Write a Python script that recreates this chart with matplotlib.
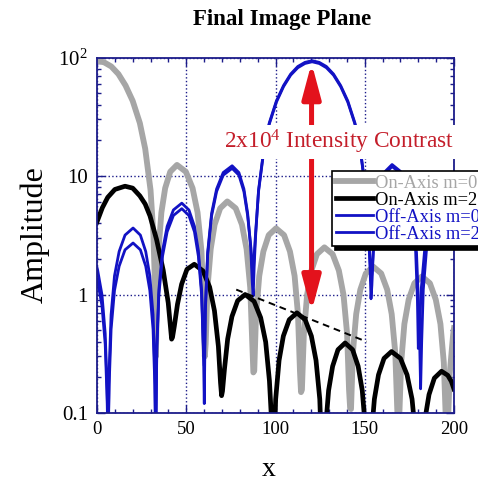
import matplotlib
matplotlib.use('Agg')
import matplotlib.pyplot as plt
from matplotlib.ticker import FixedLocator, MultipleLocator, LogLocator, NullFormatter

plt.rcParams['font.family'] = ['Liberation Serif', 'DejaVu Serif']
plt.rcParams['mathtext.fontset'] = 'custom'
plt.rcParams['mathtext.rm'] = 'Liberation Serif'
plt.rcParams['mathtext.it'] = 'Liberation Serif:italic'
plt.rcParams['mathtext.bf'] = 'Liberation Serif:bold'

# ---------------- data ----------------
labels = ['On-Axis m=0', 'On-Axis m=2', 'Off-Axis m=0', 'Off-Axis m=2']

grey_x = [0, 4, 8, 12, 16, 20, 24, 27, 30, 31.6, 32.4, 33.0,
          33.47, 34.42, 36.07, 38.19, 41.02, 44.8, 49.79, 53.54, 56.34, 58.53, 59.78, 60.4,
          60.9, 61.9, 63.7, 65.9, 69.0, 73.0, 77.7, 81.2, 83.8, 85.85, 87.0, 87.6,
          88.1, 89.1, 90.9, 93.2, 96.2, 100.3, 104.8, 108.1, 110.7, 112.6, 113.7, 114.3,
          114.8, 115.9, 117.7, 120.1, 123.2, 127.4, 132.0, 135.5, 138.1, 140.1, 141.2, 141.8,
          142.3, 143.35, 145.2, 147.5, 150.6, 154.7, 159.2, 162.6, 165.1, 167.1, 168.2, 168.8,
          169.3, 170.4, 172.2, 174.6, 177.8, 182, 186.5, 189.8, 192.4, 194.3, 195.4, 196,
          196.5, 197.6, 199.5, 200]
grey_y = [94, 91, 84, 72.5, 58, 43, 28, 17, 7.6, 3.2, 1.3, 0.3,
          0.78, 2.32, 4.92, 7.90, 10.86, 12.4, 10.86, 7.90, 4.92, 2.32, 0.78, 0.3,
          0.383, 1.14, 2.42, 3.89, 5.34, 6.1, 5.34, 3.89, 2.42, 1.14, 0.383, 0.22,
          0.227, 0.677, 1.437, 2.306, 3.171, 3.62, 3.171, 2.306, 1.437, 0.677, 0.227, 0.15,
          0.157, 0.468, 0.993, 1.593, 2.19, 2.5, 2.19, 1.593, 0.993, 0.468, 0.157, 0.11,
          0.108, 0.322, 0.683, 1.096, 1.507, 1.72, 1.507, 1.096, 0.683, 0.322, 0.108, 0.07,
          0.089, 0.266, 0.564, 0.905, 1.244, 1.42, 1.244, 0.905, 0.564, 0.266, 0.089, 0.06,
          0.072, 0.215, 0.457, 0.52]

black_x = [0, 3, 6, 10, 15.7, 20, 24, 27, 29.7, 33.4, 37.1, 39.9, 41.8,
           42.3, 43.3, 45.1, 47.4, 50.4, 54.5, 59.4, 63.1, 65.8, 68.0, 69.2, 69.8,
           70.3, 71.4, 73.2, 75.6, 78.8, 83, 88.0, 91.7, 94.5, 96.6, 97.9, 98.5,
           99.0, 100.1, 102.0, 104.4, 107.7, 112, 116.6, 120.1, 122.7, 124.8, 125.9, 126.5,
           127.0, 128.0, 129.75, 132.0, 135.0, 139, 143.2, 146.3, 148.6, 150.4, 151.5, 152,
           152.5, 153.6, 155.4, 157.7, 160.8, 165, 170.0, 173.7, 176.5, 178.6, 179.9, 180.5,
           181.0, 182.0, 183.75, 186.0, 189.0, 193, 196.5, 198.5, 200]
black_y = [4.1, 5.4, 6.6, 7.7, 8.2, 7.9, 6.8, 5.8, 4.6, 2.9, 1.6, 0.85, 0.42,
           0.435, 0.538, 0.829, 1.221, 1.632, 1.8, 1.58, 1.156, 0.729, 0.365, 0.18, 0.14,
           0.153, 0.234, 0.421, 0.652, 0.887, 1.0, 0.876, 0.637, 0.397, 0.187, 0.08, 0.05,
           0.044, 0.131, 0.278, 0.446, 0.613, 0.70, 0.613, 0.446, 0.278, 0.131, 0.044, 0.03,
           0.0245, 0.073, 0.155, 0.248, 0.342, 0.39, 0.342, 0.248, 0.155, 0.073, 0.0245, 0.02,
           0.0207, 0.0617, 0.131, 0.21, 0.289, 0.33, 0.289, 0.21, 0.131, 0.0617, 0.0207, 0.015,
           0.0141, 0.042, 0.089, 0.143, 0.197, 0.225, 0.208, 0.185, 0.159]

blue0_x = [0, 0.4, 2.8, 4.6, 5.7, 6.2,
           6.8, 7.9, 9.8, 12.4, 15.7, 20.2, 24.3, 27.3, 29.6, 31.4, 32.4, 32.9,
           33.5, 34.65, 36.7, 39.3, 42.8, 47.5, 51.5, 54.6, 56.8, 58.6, 59.6, 60.1,
           60.7, 62.0, 64.2, 67.0, 70.7, 75.7, 79.5, 82.3, 84.4, 86.1, 87.0, 87.5,
           88.1, 88.9, 90.5, 93.5, 96.5, 100.5, 104.5, 108.5, 112.5, 116.5, 120.5,
           124.5, 128.5, 132.5, 136.5, 140.5, 144.5, 147.5, 150.5, 152.1, 152.9, 153.5,
           154.0, 154.9, 156.6, 158.7, 161.5, 165.3, 170.0, 173.6, 176.3, 178.5, 179.5, 180.0,
           180.6, 181.7, 183.6, 186.0, 189.2, 193.3, 198.0, 200]
blue0_y = [1.69, 1.593, 0.993, 0.468, 0.157, 0.05,
           0.227, 0.677, 1.437, 2.306, 3.171, 3.64, 3.171, 2.306, 1.437, 0.677, 0.227, 0.05,
           0.37, 1.10, 2.34, 3.76, 5.17, 5.9, 5.17, 3.76, 2.34, 1.10, 0.37, 0.12,
           0.766, 2.28, 4.84, 7.77, 10.69, 12.2, 10.69, 7.77, 4.84, 2.5, 1.25, 0.97,
           1.8, 3.2, 7.6, 17, 28, 43, 58, 72.5, 84, 91, 94,
           91, 84, 72.5, 58, 43, 28, 17, 7.6, 3.2, 1.8, 0.92,
           1.2, 2.5, 4.96, 7.96, 10.95, 12.5, 10.95, 7.96, 4.96, 2.34, 0.9, 0.35,
           0.5, 1.14, 2.42, 3.89, 5.34, 6.1, 5.34, 4.7]

blue2_x = [0, 0.4, 2.8, 4.6, 5.7, 6.2,
           6.8, 7.9, 9.8, 12.4, 15.7, 20.2, 24.3, 27.3, 29.6, 31.4, 32.4, 32.9,
           33.5, 34.65, 36.7, 39.3, 42.8, 47.5, 51.5, 54.6, 56.8, 58.6, 59.6, 60.1,
           60.7, 62.0, 64.2, 67.0, 70.7, 75.7, 79.5, 82.3, 84.4, 86.1, 87.0, 87.5,
           88.1, 88.9, 90.5, 93.5, 96.5, 100.5, 104.5, 108.5, 112.5, 116.5, 120.5,
           124.5, 128.5, 132.5, 136.5, 140.5, 144.5, 147.5, 150.5, 152.1, 152.9, 153.5,
           154.0, 154.9, 156.6, 158.7, 161.5, 165.3, 170.3, 174.0, 176.8, 179.0, 180.5, 181.3,
           181.9, 182.8, 184.5, 186.6, 189.7, 193.7, 198.4, 200]
blue2_y = [1.35, 1.28, 0.8, 0.38, 0.125, 0.05,
           0.171, 0.509, 1.08, 1.733, 2.383, 2.72, 2.383, 1.733, 1.08, 0.509, 0.171, 0.05,
           0.333, 0.991, 2.10, 3.38, 4.64, 5.3, 4.64, 3.38, 2.10, 0.991, 0.333, 0.25,
           0.728, 2.17, 4.61, 7.39, 10.16, 11.6, 10.16, 7.39, 4.61, 2.6, 1.7, 1.45,
           2.2, 3.4, 7.4, 16.6, 27.4, 42, 56.8, 71, 82, 89, 92,
           89, 82, 71, 56.8, 42, 27.4, 16.6, 7.4, 3.3, 2.0, 1.3,
           1.5, 2.5, 4.76, 7.64, 10.5, 12.0, 10.5, 7.64, 4.76, 2.25, 0.6, 0.16,
           0.4, 1.1, 2.3, 3.7, 5.08, 5.8, 5.08, 4.5]

dash_x = [78, 151]
dash_y = [1.1, 0.40]

arrow_x = 120.2
arrow_top = 90
arrow_bottom = 0.72

note_text = '2x10$^4$ Intensity Contrast'
note_x, note_y = 135.5, 19.5

x_ticks = [0, 50, 100, 150, 200]
y_ticks = [0.1, 1, 10, 100]
y_ticklabels = ['0.1', '1', '10', '10$^2$']

# ---------------- styling ----------------
navy = '#1c1c8a'
grey = '#a6a6a6'
blue = '#1212c4'
red_arrow = '#e3121c'
red_text = '#c41e2a'

fig = plt.figure(figsize=(4.78, 4.84), dpi=100)
ax = fig.add_axes([97/478, 1-413/484, (454-97)/478, (413-57.5)/484])

ax.plot(grey_x, grey_y, color=grey, lw=4.2, label=labels[0], zorder=2)
ax.plot(black_x, black_y, color='black', lw=3.4, label=labels[1], zorder=2.1)
ax.plot(blue0_x, blue0_y, color=blue, lw=2.0, label=labels[2], zorder=2.2)
ax.plot(blue2_x, blue2_y, color=blue, lw=2.0, label=labels[3], zorder=2.3)
ax.plot(dash_x, dash_y, color='black', lw=1.4, ls=(0, (3.5, 2.5)), zorder=2.4)

ax.set_yscale('log')
ax.set_xlim(0, 200)
ax.set_ylim(0.1, 100)

ax.xaxis.set_major_locator(FixedLocator(x_ticks))
ax.xaxis.set_minor_locator(MultipleLocator(10))
ax.yaxis.set_major_locator(FixedLocator(y_ticks))
ax.set_yticklabels(y_ticklabels)
ax.set_xticklabels([str(v) for v in x_ticks])
ax.yaxis.set_minor_locator(LogLocator(base=10, subs=[2, 3, 4, 5, 6, 7, 8, 9]))
ax.yaxis.set_minor_formatter(NullFormatter())

ax.grid(True, which='major', ls=':', color=navy, lw=1.0)
for s in ax.spines.values():
    s.set_color(navy)
    s.set_linewidth(1.3)
ax.tick_params(which='both', direction='in', top=True, right=True, color=navy, width=1)
ax.tick_params(which='major', length=6)
ax.tick_params(which='minor', length=3)
ax.tick_params(axis='x', labelsize=13.5, pad=5.5)
ax.tick_params(axis='y', labelsize=15, pad=6.5)

ax.annotate('', xy=(arrow_x, arrow_bottom), xytext=(arrow_x, arrow_top),
            arrowprops=dict(arrowstyle='<|-|>,head_length=1.5,head_width=0.4',
                            mutation_scale=14, lw=3.6, color=red_arrow,
                            shrinkA=0, shrinkB=0),
            zorder=5)
ax.text(note_x, note_y, note_text, color=red_text, fontsize=16.8,
        ha='center', va='center', zorder=6,
        bbox=dict(boxstyle='square,pad=0.12', fc='white', ec='none'))

leg = ax.legend(loc='upper left', bbox_to_anchor=(332/478, 1-171/484),
                bbox_transform=fig.transFigure, borderaxespad=0, fontsize=13.3,
                frameon=True, fancybox=False,
                shadow={'ox': 2, 'oy': -2.5, 'color': 'black', 'alpha': 1},
                handlelength=2.0, handletextpad=0.12, labelspacing=0.0,
                borderpad=0.2, edgecolor='black', framealpha=1)
leg.get_frame().set_linewidth(1.2)
for t, c in zip(leg.get_texts(), [grey, 'black', blue, blue]):
    t.set_color(c)

fig.text(282/478, 1-25/484, 'Final Image Plane', ha='center', va='baseline',
         fontsize=16.5, fontweight='bold')
fig.text(35/478, 1-235/484, 'Amplitude', rotation=90, ha='center', va='center',
         fontsize=23)
fig.text(269/478, 1-470/484, 'x', ha='center', va='center', fontsize=20)

fig.savefig('out.png', dpi=100)
